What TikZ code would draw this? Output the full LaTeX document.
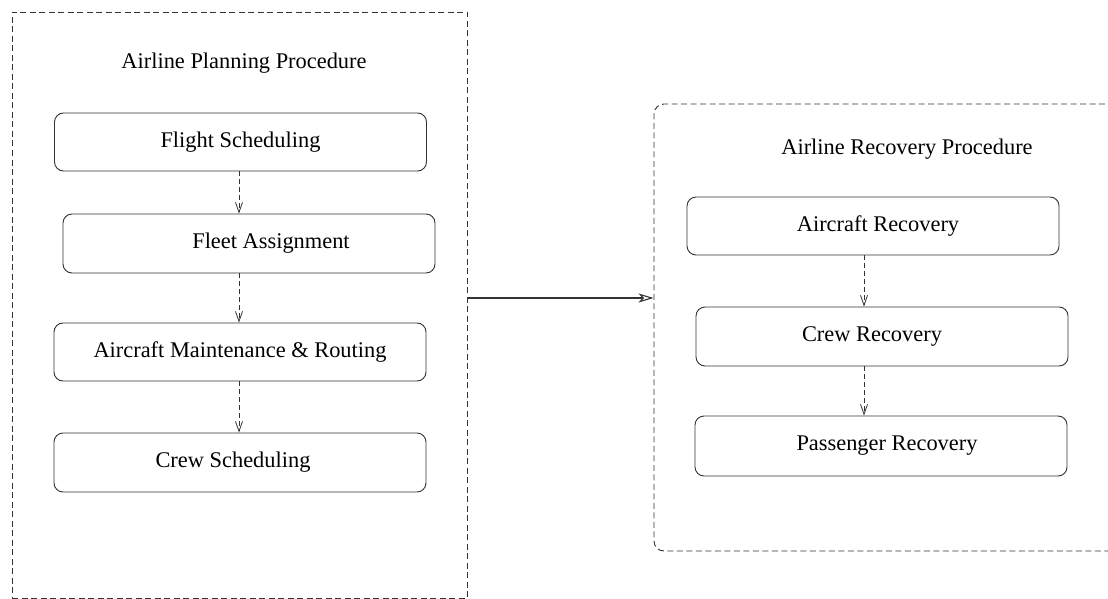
\documentclass[tikz,border=0pt]{standalone}
\usepackage{fontspec}
\setmainfont{Liberation Serif}
\newfontfamily\labelfont{Liberation Serif}
\usetikzlibrary{arrows.meta}

\tikzset{
  stage/.style={draw=black!80, line width=0.9pt, rounded corners=9pt,
    minimum width=372pt, minimum height=58pt, inner sep=0pt},
  stagetext/.style={font=\labelfont\fontsize{22.4}{26}\selectfont, text=black},
  container/.style={draw=black!80, line width=0.9pt, dash pattern=on 6pt off 3.5pt,
    inner sep=0pt},
  flow/.style={draw=black!80, line width=0.8pt, dash pattern=on 5pt off 3pt,
    -{Straight Barb[length=10pt,width=7pt,line width=0.8pt]}},
  link/.style={draw=black!80, line width=1.1pt,
    -{Stealth[open,length=15pt,width=9pt,inset=4pt,line width=1.1pt]}},
}

\begin{document}
\begin{tikzpicture}[x=1pt, y=-1pt]
  \useasboundingbox (0,0) rectangle (1108,599);

  % containers
  \node[container, minimum width=455pt, minimum height=586pt] (plan) at (239.5,305) {};
  \node[container, rounded corners=10pt, minimum width=480pt, minimum height=447pt] (rec) at (894,327.5) {};

  \node[stagetext] (plantitle) at (244,63) {Airline Planning Procedure};
  \node[stagetext] (rectitle) at (907,149) {Airline Recovery Procedure};

  % planning stages
  \node[stage, label={[stagetext]center:Flight Scheduling}] (fs) at (240.5,142) {};
  \node[stage, minimum height=59pt, label={[stagetext, xshift=22pt]center:Fleet Assignment}] (fa) at (249,243.5) {};
  \node[stage, label={[stagetext]center:Aircraft Maintenance \& Routing}] (amr) at (240,352) {};
  \node[stage, minimum height=59pt, label={[stagetext, xshift=-7pt]center:Crew Scheduling}] (cs) at (240,462.5) {};

  % recovery stages
  \node[stage, label={[stagetext, xshift=5pt]center:Aircraft Recovery}] (ar) at (873,226) {};
  \node[stage, minimum height=59pt, label={[stagetext, xshift=-10pt]center:Crew Recovery}] (cr) at (882,336.5) {};
  \node[stage, minimum height=60pt, label={[stagetext, xshift=6pt]center:Passenger Recovery}] (pr) at (881,446) {};

  % planning flow
  \draw[flow] ([xshift=-1.5pt]fs.south) -- ([xshift=-1.5pt]fs.south |- fa.north);
  \draw[flow] ([xshift=-10pt]fa.south) -- ([xshift=-10pt]fa.south |- amr.north);
  \draw[flow] ([xshift=-1pt]amr.south) -- ([xshift=-1pt]amr.south |- cs.north);

  % recovery flow
  \draw[flow] ([xshift=-9pt]ar.south) -- ([xshift=-9pt]ar.south |- cr.north);
  \draw[flow] ([xshift=-18pt]cr.south) -- ([xshift=-18pt]cr.south |- pr.north);

  % planning feeds recovery
  \draw[link] ([yshift=7pt]plan.east) -- ([yshift=7pt]plan.east -| rec.west);
\end{tikzpicture}
\end{document}
